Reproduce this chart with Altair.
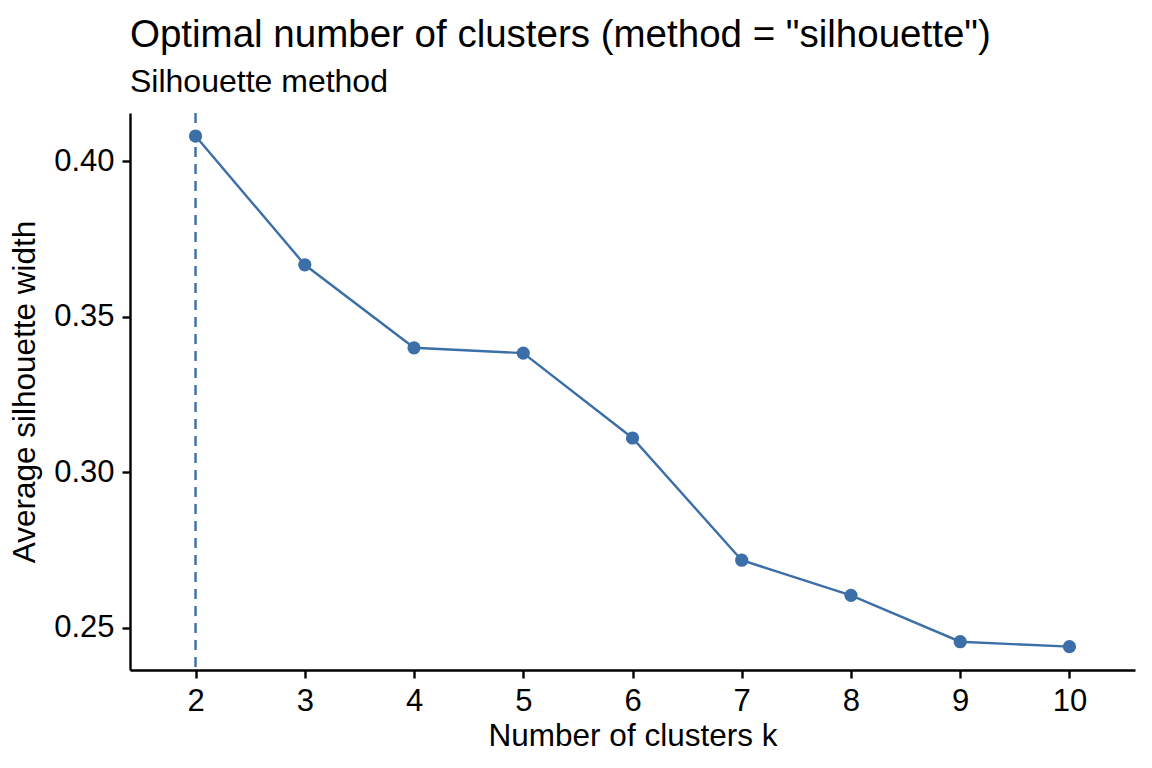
import altair as alt
import pandas as pd

k_values = [2, 3, 4, 5, 6, 7, 8, 9, 10]
silhouette = [0.4081, 0.3667, 0.3400, 0.3383, 0.3110, 0.2717, 0.2604, 0.2455, 0.2439]
optimal_k = [2]
x_ticks = [2, 3, 4, 5, 6, 7, 8, 9, 10]
y_ticks = [0.25, 0.30, 0.35, 0.40]

df = pd.DataFrame({"k": k_values, "sil": silhouette})
opt = pd.DataFrame({"k": optimal_k})

COLOR = "#3C6FA8"
FONT = "Liberation Sans"

x_scale = alt.Scale(domain=[1.4, 10.6], nice=False, zero=False)
y_scale = alt.Scale(domain=[0.2364, 0.4155], nice=False, zero=False)

x_enc = alt.X("k:Q", scale=x_scale,
              axis=alt.Axis(values=x_ticks, format="d", title="Number of clusters k"))
y_enc = alt.Y("sil:Q", scale=y_scale,
              axis=alt.Axis(values=y_ticks, format=".2f", title="Average silhouette width"))

line = alt.Chart(df).mark_line(color=COLOR, strokeWidth=2.4).encode(x=x_enc, y=y_enc)
points = alt.Chart(df).mark_circle(color=COLOR, size=175, opacity=1).encode(x=x_enc, y=y_enc)
vline = alt.Chart(opt).mark_rule(color=COLOR, strokeWidth=2.4, strokeDash=[10, 7]).encode(
    x=alt.X("k:Q", scale=x_scale)
)

chart = (
    alt.layer(vline, line, points)
    .properties(
        width=1005,
        height=557,
        autosize=alt.AutoSizeParams(type="none"),
        padding={"left": 130, "top": 113, "right": 17, "bottom": 98},
        title=alt.Title(
            'Optimal number of clusters (method = "silhouette")',
            subtitle="Silhouette method",
            anchor="start",
            frame="group",
            font=FONT,
            fontSize=38.5,
            fontWeight="normal",
            color="black",
            subtitleFont=FONT,
            subtitleFontSize=32,
            subtitleColor="black",
            subtitlePadding=11,
            offset=13,
        ),
    )
    .configure_view(stroke=None)
    .configure_axis(
        grid=False,
        domainColor="black",
        domainWidth=2.4,
        tickColor="black",
        tickWidth=2.4,
        tickSize=8,
        labelFont=FONT,
        labelFontSize=31,
        labelColor="black",
        labelPadding=8,
        titleFont=FONT,
        titleFontSize=31.5,
        titleFontWeight="normal",
        titleColor="black",
    )
    .configure_axisX(titlePadding=4)
    .configure_axisY(titlePadding=12)
)

chart.save("out.html", embed_options={"renderer": "svg", "actions": False})
